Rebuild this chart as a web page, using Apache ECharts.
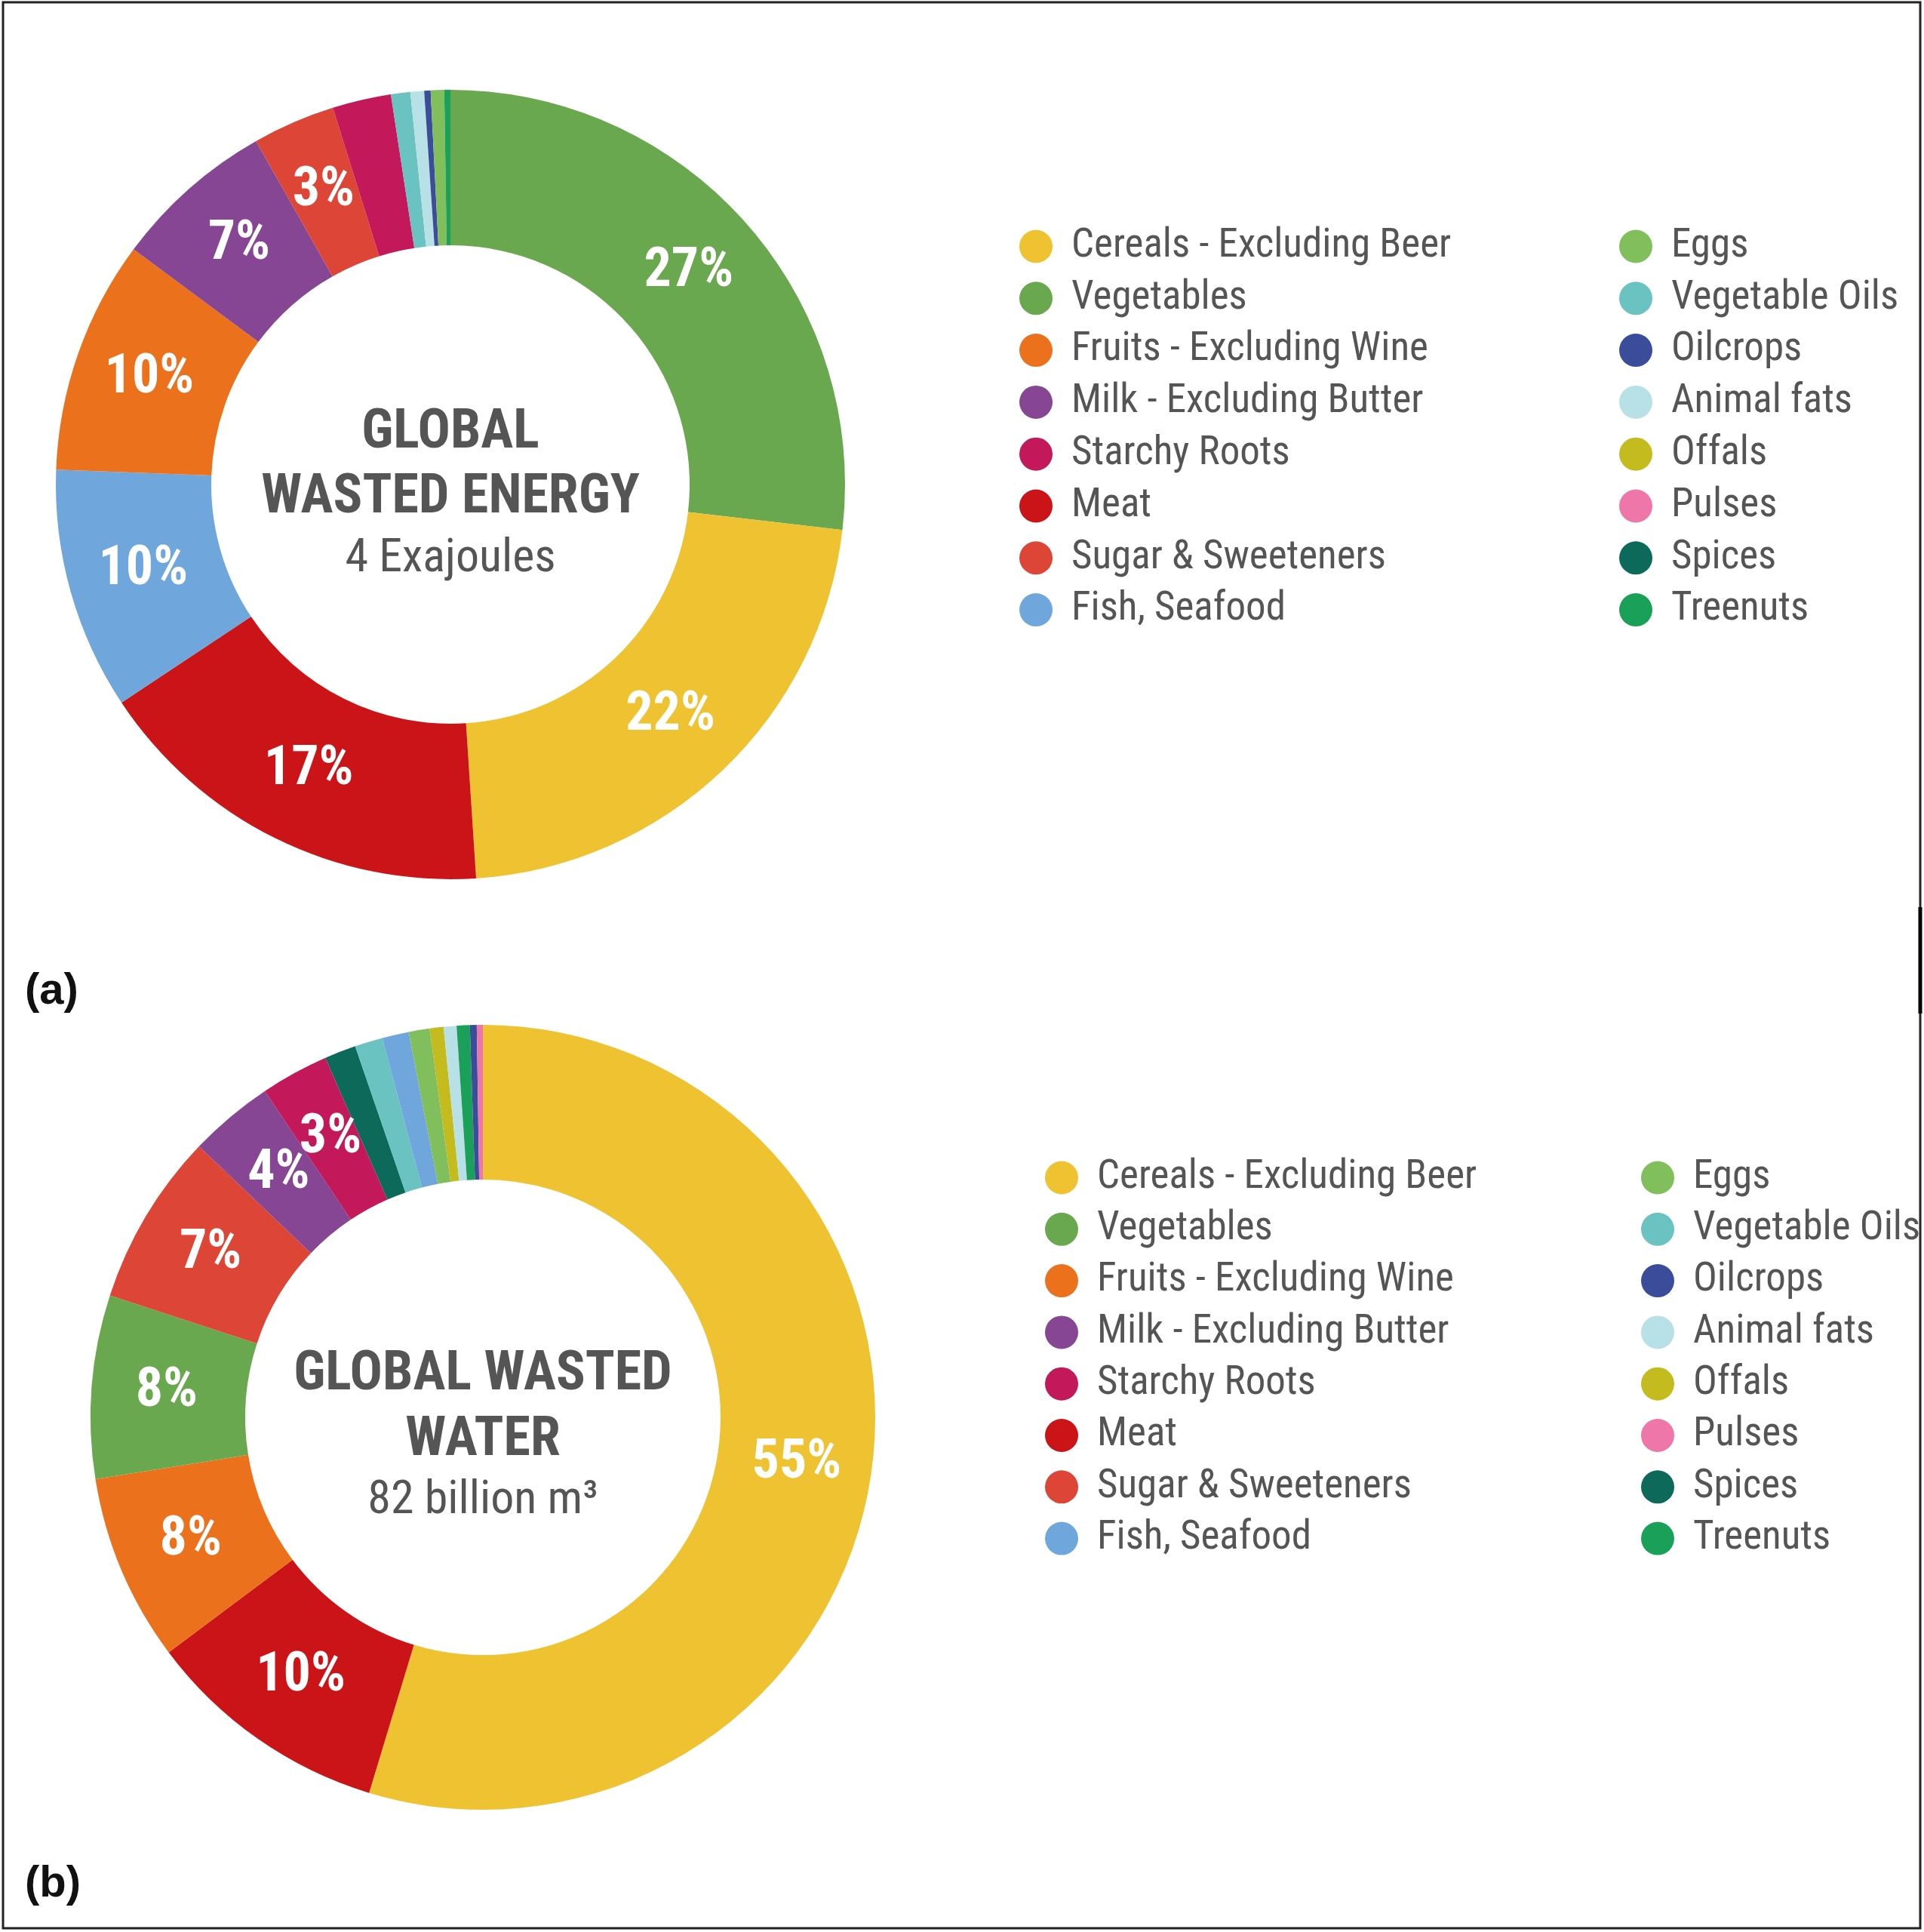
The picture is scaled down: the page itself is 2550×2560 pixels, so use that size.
<!DOCTYPE html>
<html>
<head>
<meta charset="utf-8">
<title>Global wasted energy and water</title>
<script src="https://cdn.jsdelivr.net/npm/echarts@6/dist/echarts.min.js"></script>
<style>
  html, body { margin: 0; padding: 0; background: #fff; }
  #chart { width: 2550px; height: 2560px; }
</style>
</head>
<body>
<div id="chart"></div>
<script>
// categories as listed in the legend (two columns of eight)
const categories = [
  'Cereals - Excluding Beer', 'Vegetables', 'Fruits - Excluding Wine', 'Milk - Excluding Butter',
  'Starchy Roots', 'Meat', 'Sugar & Sweeteners', 'Fish, Seafood',
  'Eggs', 'Vegetable Oils', 'Oilcrops', 'Animal fats',
  'Offals', 'Pulses', 'Spices', 'Treenuts'
]
const categoryColors = [
  '#EFC232', '#6AA84F', '#EC711D', '#864694',
  '#C3185A', '#CB1418', '#DD4637', '#6FA7DC',
  '#80BF5B', '#6BC3C1', '#3B4C9B', '#B7E0E7',
  '#C4BB1F', '#EE76A8', '#0D6A5B', '#1BA05A'
]

// (a) wasted energy, share in %, clockwise from 12 o'clock
const energyNames = [
  'Vegetables', 'Cereals - Excluding Beer', 'Meat', 'Fish, Seafood', 'Fruits - Excluding Wine',
  'Milk - Excluding Butter', 'Sugar & Sweeteners', 'Starchy Roots', 'Vegetable Oils',
  'Animal fats', 'Oilcrops', 'Eggs', 'Treenuts'
]
const energyValues = [26.8, 22.1, 16.7, 9.9, 9.55, 6.63, 3.38, 2.4, 0.79, 0.56, 0.26, 0.55, 0.25]

// (b) wasted water, share in %, clockwise from 12 o'clock
const waterNames = [
  'Cereals - Excluding Beer', 'Meat', 'Fruits - Excluding Wine', 'Vegetables',
  'Sugar & Sweeteners', 'Milk - Excluding Butter', 'Starchy Roots', 'Spices',
  'Vegetable Oils', 'Fish, Seafood', 'Eggs', 'Offals', 'Animal fats',
  'Treenuts', 'Oilcrops', 'Pulses'
]
const waterValues = [54.7, 10.1, 7.7, 7.55, 7.1, 3.5, 2.8, 1.3, 1.15, 1.1, 0.86, 0.57, 0.53, 0.54, 0.28, 0.25]

const legendLeft = categories.slice(0, 8)
const legendRight = categories.slice(8)

const FONT = '"Roboto Condensed", "Liberation Sans Narrow", "Arial Narrow", Roboto, sans-serif'
const GREY = '#555555'

const colorOf = (name) => categoryColors[categories.indexOf(name)]

const toData = (names, values) =>
  names.map((name, i) => ({ name, value: values[i], itemStyle: { color: colorOf(name) } }))

const donut = (names, values, center, radius) => ({
  type: 'pie',
  center,
  radius,
  startAngle: 90,
  clockwise: true,
  avoidLabelOverlap: false,
  silent: true,
  data: toData(names, values),
  label: {
    show: true,
    position: 'inside',
    color: '#ffffff',
    fontFamily: FONT,
    fontWeight: 'bold',
    fontSize: 72,
    overflow: 'none',
    // only the bigger slices carry a label
    formatter: (p) => (p.percent >= 2.6 ? Math.round(p.percent) + '%' : '')
  },
  labelLayout: { hideOverlap: false },
  labelLine: { show: false },
  emphasis: { disabled: true }
})

// wider icon box leaves more room between the dot and its text
const legendBlock = (names, left, top, gap) => ({
  data: names,
  orient: 'vertical',
  left,
  top,
  icon: 'circle',
  itemWidth: 84,
  itemHeight: 44,
  itemGap: gap,
  selectedMode: false,
  padding: 0,
  textStyle: { color: GREY, fontSize: 53, fontFamily: FONT }
})

const centerText = (text, x, y, size, weight) => ({
  type: 'text',
  x,
  y,
  silent: true,
  style: {
    text,
    fill: GREY,
    fontSize: size,
    fontWeight: weight,
    fontFamily: FONT,
    textAlign: 'center',
    textVerticalAlign: 'middle'
  }
})

const panelTag = (text, y) => ({
  type: 'text',
  x: 33,
  y,
  silent: true,
  style: {
    text,
    fill: '#111111',
    fontSize: 58,
    fontWeight: 'bold',
    fontFamily: '"Liberation Sans", Arial, sans-serif',
    textAlign: 'left',
    textVerticalAlign: 'middle'
  }
})

const chart = echarts.init(document.getElementById('chart'))

chart.setOption({
  animation: false,
  backgroundColor: '#ffffff',
  legend: [
    legendBlock(legendLeft, 1351, 300, 15.8),
    legendBlock(legendRight, 2146, 300, 15.8),
    legendBlock(legendLeft, 1385, 1534, 15.3),
    legendBlock(legendRight, 2175, 1534, 15.3)
  ],
  series: [
    donut(energyNames, energyValues, [597, 642], [317, 523]),
    donut(waterNames, waterValues, [640, 1878], [315, 520])
  ],
  graphic: [
    {
      type: 'rect',
      silent: true,
      shape: { x: 4, y: 3, width: 2541, height: 2552 },
      style: { fill: 'none', stroke: '#222222', lineWidth: 3 }
    },
    {
      type: 'line',
      silent: true,
      shape: { x1: 2545, y1: 1202, x2: 2545, y2: 1343 },
      style: { stroke: '#000000', lineWidth: 5 }
    },
    centerText('GLOBAL', 597, 575, 72, 'bold'),
    centerText('WASTED ENERGY', 597, 661, 72, 'bold'),
    centerText('4 Exajoules', 597, 741, 62, 'normal'),
    centerText('GLOBAL WASTED', 640, 1823, 72, 'bold'),
    centerText('WATER', 640, 1910, 72, 'bold'),
    centerText('82 billion m³', 640, 1989, 62, 'normal'),
    panelTag('(a)', 1314),
    panelTag('(b)', 2497)
  ]
})

window.addEventListener('resize', () => chart.resize())
</script>
</body>
</html>
